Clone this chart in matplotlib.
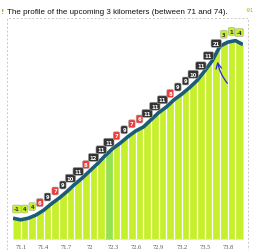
import matplotlib
matplotlib.use("Agg")
import matplotlib.pyplot as plt
from matplotlib.patches import Rectangle

# km boundaries of the 100 m segments, elevation (m) at each boundary
km = [71.0, 71.1, 71.2, 71.3, 71.4, 71.5, 71.6, 71.7, 71.8, 71.9, 72.0,
      72.1, 72.2, 72.3, 72.4, 72.5, 72.6, 72.7, 72.8, 72.9, 73.0,
      73.1, 73.2, 73.3, 73.4, 73.5, 73.6, 73.7, 73.8, 73.9, 74.0]
elev = [526, 524, 526, 530, 536, 544, 551, 559, 568, 576, 585,
        594, 604, 613, 620, 628, 635, 640, 649, 658, 665,
        674, 681, 689, 698, 710, 723, 741, 746, 748, 743]
# gradient (%) per segment, as shown in the little boxes
grades = [-1, 4, 4, 6, 9, 7, 9, 10, 11, 8, 12, 11, 11, 7, 9,
          7, 6, 11, 11, 11, 8, 9, 9, 10, 11, 11, 21, 3, 1, -4]
tick_km = [71.1, 71.4, 71.7, 72.0, 72.3, 72.6, 72.9, 73.2, 73.5, 73.8]
tick_labels = ["71.1", "71.4", "71.7", "72", "72.3", "72.6", "72.9", "73.2", "73.5", "73.8"]
highlight = 12  # segment 72.2 - 72.3

base = 500
bar_color = "#c6f02c"
hl_color = "#94e24e"
line_color = "#1b5d78"

fig = plt.figure(figsize=(2.56, 2.51), dpi=100)
W, H = 256, 251
ax = fig.add_axes([13 / W, (H - 240) / H, 230 / W, 221 / H])

ax.fill_between(km, elev, base, color=bar_color, lw=0)
ax.fill_between(km[highlight:highlight + 2], elev[highlight:highlight + 2], base,
                color=hl_color, lw=0)
ax.vlines(km[1:-1], base, elev[1:-1], color="white", lw=0.9)
ax.plot(km, elev, color=line_color, lw=2.6, solid_capstyle="butt")

# gradient boxes
for i, g in enumerate(grades):
    xm = (km[i] + km[i + 1]) / 2
    ym = (elev[i] + elev[i + 1]) / 2 + 12.5
    if g < 5:
        fc, tc = bar_color, "#333333"
    elif g <= 8:
        fc, tc = "#f03a3a", "white"
    else:
        fc, tc = "#333333", "white"
    ax.text(xm, ym, str(g), ha="center", va="center", fontsize=3.8,
            fontweight="bold", color=tc,
            bbox=dict(boxstyle="round,pad=0.28", fc=fc, ec="#aaaaaa", lw=0.4))

# hand drawn arrow
ax.annotate("", xy=(73.66, 725), xytext=(73.82, 692),
            arrowprops=dict(arrowstyle="->", color="#2a2ad0", lw=0.9,
                            connectionstyle="arc3,rad=-0.15"))

ax.set_xlim(71.0, 74.0)
ax.set_ylim(base, base + 221 * 1.25)
ax.set_xticks(tick_km)
ax.set_xticklabels(tick_labels, fontsize=4.6, color="#555555", family="Liberation Serif")
ax.tick_params(axis="x", length=0, pad=3.5)
ax.set_yticks([])
for s in ax.spines.values():
    s.set_visible(False)

# dashed frame and header
fig.patches.append(Rectangle((7 / W, -0.05), 241 / W, (H - 19) / H + 0.05,
                             transform=fig.transFigure, fill=False,
                             ec="#c8c8c8", ls=(0, (2, 2)), lw=0.7))
fig.text(7 / W, 1 - 12 / H, "The profile of the upcoming 3 kilometers (between 71 and 74).",
         fontsize=5.8, family=["Liberation Sans Narrow", "Liberation Sans"],
         va="center", ha="left", color="#111111")
fig.text(246 / W, 1 - 11 / H, "-91", fontsize=3.6, color="#88bb22", va="center", ha="left")
fig.text(1 / W, 1 - 12 / H, "!", fontsize=5, color="#88bb22", va="center", ha="left",
         fontweight="bold")

fig.savefig("out.png", dpi=100)
